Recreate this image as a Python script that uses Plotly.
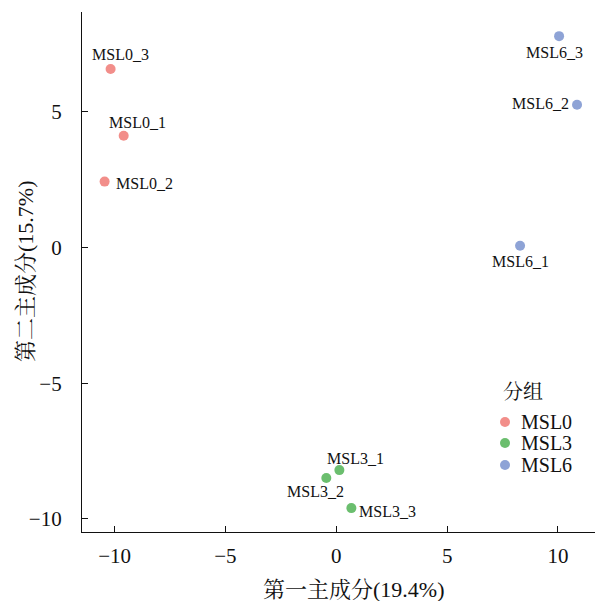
import plotly.graph_objects as go

groups = ["MSL0", "MSL3", "MSL6"]
colors = {"MSL0": "#F28E8A", "MSL3": "#6BBE6E", "MSL6": "#8EA3D6"}
samples = ["MSL0_1", "MSL0_2", "MSL0_3", "MSL3_1", "MSL3_2", "MSL3_3", "MSL6_1", "MSL6_2", "MSL6_3"]
sample_group = ["MSL0", "MSL0", "MSL0", "MSL3", "MSL3", "MSL3", "MSL6", "MSL6", "MSL6"]
pc1 = [-9.59, -10.45, -10.18, 0.14, -0.45, 0.68, 8.29, 10.86, 10.05]
pc2 = [4.12, 2.43, 6.58, -8.20, -8.49, -9.60, 0.07, 5.26, 7.79]
# label pixel offsets (repel-like placement)
label_dx = [14, 40, 10, 16, -11, 36, 0, -37, -5]
label_dy = [13, -2, 14, 12, -14, -3, -16, 1, -16]

x_ticks = [-10, -5, 0, 5, 10]
y_ticks = [-10, -5, 0, 5]
x_title = "第一主成分(19.4%)"
y_title = "第二主成分(15.7%)"
legend_title = "分组"

FONT = "Liberation Serif, Times New Roman, Noto Serif CJK SC, Noto Sans CJK SC, serif"

W, H = 595, 601
ML, MR, MT, MB = 82, 0, 12, 69
PW, PH = W - ML - MR, H - MT - MB


def px_x(px):
    return (px - ML) / PW


def px_y(py):
    return (H - MB - py) / PH


fig = go.Figure()
for g in groups:
    xs = [pc1[i] for i in range(len(samples)) if sample_group[i] == g]
    ys = [pc2[i] for i in range(len(samples)) if sample_group[i] == g]
    fig.add_trace(go.Scatter(
        x=xs, y=ys, mode="markers", name=g, showlegend=False,
        marker=dict(size=10, color=colors[g], line=dict(width=0)),
    ))

for i, s in enumerate(samples):
    fig.add_annotation(
        x=pc1[i], y=pc2[i], text=s, showarrow=False,
        xshift=label_dx[i], yshift=label_dy[i],
        font=dict(family=FONT, size=16, color="#111111"),
    )

# axis titles
fig.add_annotation(xref="paper", yref="paper", x=px_x(353), y=px_y(589),
                   text=x_title, showarrow=False, xanchor="center", yanchor="middle",
                   font=dict(family=FONT, size=22, color="#111111"))
fig.add_annotation(xref="paper", yref="paper", x=px_x(25), y=px_y(272),
                   text=y_title, showarrow=False, textangle=-90,
                   xanchor="center", yanchor="middle",
                   font=dict(family=FONT, size=22, color="#111111"))

# legend (drawn manually to match spacing)
fig.add_annotation(xref="paper", yref="paper", x=px_x(501), y=px_y(392),
                   text=legend_title, showarrow=False, xanchor="left", yanchor="middle",
                   font=dict(family=FONT, size=20, color="#111111"))
legend_y = [422, 443, 465]
for g, ly in zip(groups, legend_y):
    r = 5
    fig.add_shape(type="circle", xref="paper", yref="paper",
                  x0=px_x(505 - r), x1=px_x(505 + r), y0=px_y(ly + r), y1=px_y(ly - r),
                  fillcolor=colors[g], line=dict(width=0))
    fig.add_annotation(xref="paper", yref="paper", x=px_x(519), y=px_y(ly),
                       text=g, showarrow=False, xanchor="left", yanchor="middle",
                       font=dict(family=FONT, size=20, color="#111111"))

axis_common = dict(
    showgrid=False, zeroline=False, showline=True, linecolor="#111111", linewidth=1.3,
    ticks="inside", ticklen=6, tickwidth=1.2, tickcolor="#111111",
    tickfont=dict(family=FONT, size=21, color="#111111"),
    mirror=False, automargin=False,
)

fig.update_layout(
    width=W, height=H,
    margin=dict(l=ML, r=MR, t=MT, b=MB),
    paper_bgcolor="white", plot_bgcolor="white",
    font=dict(family=FONT, color="#111111"),
    showlegend=False,
    xaxis=dict(range=[-11.47, 11.67], tickvals=x_ticks, ticklabelstandoff=5, **axis_common),
    yaxis=dict(range=[-10.48, 8.68], tickvals=y_ticks, ticklabelstandoff=15, **axis_common),
)

fig.write_html("out.html", config={"displayModeBar": False},
               post_script="document.body.style.margin='0';document.body.style.overflow='hidden';")
